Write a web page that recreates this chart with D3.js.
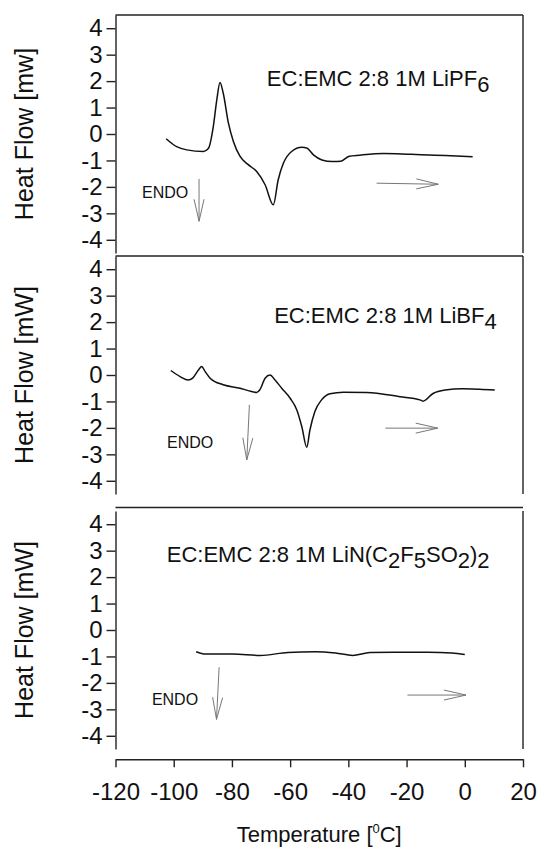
<!DOCTYPE html>
<html>
<head>
<meta charset="utf-8">
<script src="https://cdn.jsdelivr.net/npm/d3@7"></script>
<style>
  body { margin: 0; background: #fff; }
  text { font-family: "Liberation Sans", Arial, sans-serif; fill: #111; }
  .frame { stroke: #222; stroke-width: 1.4; fill: none; }
  .curve { fill: none; stroke: #111; stroke-width: 1.5; }
  .arrow { stroke: #777; stroke-width: 1; fill: none; }
  .tick line, .domain { stroke: #222; stroke-width: 1.4; }
</style>
</head>
<body>
<svg id="chart" width="537" height="851"></svg>
<script>
/* ==== Data ==== */
var tempTicks = [-120, -100, -80, -60, -40, -20, 0, 20];
var flowTicks = [-4, -3, -2, -1, 0, 1, 2, 3, 4];

// [temperature degC, heat flow mW]
var lipf6 = [
  [-102.6, -0.18], [-99, -0.48], [-95.5, -0.6], [-89.8, -0.66], [-88.1, -0.55],
  [-86.4, 0.28], [-85.2, 1.29], [-84.1, 1.95], [-83, 1.55], [-81.2, 0.41],
  [-79.5, -0.28], [-77.2, -0.85], [-74.4, -1.16], [-71.5, -1.42], [-68.6, -1.92],
  [-65.8, -2.68], [-64.1, -1.73], [-62.3, -1.1], [-59.5, -0.66], [-56, -0.5],
  [-54.3, -0.53], [-52, -0.79], [-49.1, -0.98], [-45.5, -1.04], [-42.6, -1.03],
  [-39.7, -0.84], [-36.1, -0.8], [-27.9, -0.74], [-18.5, -0.77], [-6.7, -0.81],
  [2.7, -0.86]
];
var libf4 = [
  [-101, 0.17], [-97.8, -0.06], [-95, -0.19], [-93.5, -0.12], [-91.5, 0.19],
  [-90.4, 0.32], [-89.2, 0.13], [-87.5, -0.12], [-83, -0.37], [-77.2, -0.5],
  [-74.4, -0.59], [-71.5, -0.66], [-70.4, -0.56], [-68.6, -0.12], [-66.9, 0],
  [-65.2, -0.19], [-62.9, -0.5], [-60, -0.88], [-57.7, -1.32], [-56, -1.95],
  [-54.3, -2.73], [-53.2, -2.08], [-51.5, -1.38], [-49.2, -0.94], [-46.3, -0.71],
  [-41.7, -0.65], [-33.7, -0.66], [-22.3, -0.82], [-15.4, -0.94], [-14.4, -0.99],
  [-10.9, -0.7], [-6.7, -0.57], [-0.9, -0.52], [5.1, -0.54], [10.3, -0.57]
];
var libeti = [
  [-92.3, -0.82], [-89.1, -0.91], [-79.7, -0.91], [-70.3, -0.96], [-60.8, -0.85],
  [-51.4, -0.82], [-44.4, -0.87], [-38.5, -0.96], [-32.6, -0.85], [-24.4, -0.84],
  [-12.6, -0.84], [-4.4, -0.87], [0, -0.93]
];
var seriesList = [lipf6, libf4, libeti];

var yTitles = ["Heat Flow [mw]", "Heat Flow [mW]", "Heat Flow [mW]"];
// text pieces, second value = subscript
var panelTitles = [
  [["EC:EMC 2:8 1M LiPF", 0], ["6", 1]],
  [["EC:EMC 2:8 1M LiBF", 0], ["4", 1]],
  [["EC:EMC 2:8 1M LiN(C", 0], ["2", 1], ["F", 0], ["5", 1], ["SO", 0], ["2", 1], [")", 0], ["2", 1]]
];
// anchor of each title, in data units [temp, flow]
var titleAt = [[-68, 1.8], [-65.5, 1.95], [-102.4, 2.58]];
var endoAt = [[-110.9, -2.41], [-102.3, -2.77], [-107.5, -2.84]];
// down arrows [t1, f1, t2, f2]
var endoArrows = [[-91.3, -1.7, -91.3, -3.3], [-74.0, -1.13, -74.9, -3.21], [-84.4, -1.41, -85.3, -3.38]];
var scanArrows = [[-30.3, -1.86, -9.1, -1.9], [-27.3, -2.01, -9.3, -2.01], [-19.7, -2.46, 0.4, -2.46]];

/* ==== Layout ==== */
var LEFT = 115.5, RIGHT = 523;
var PANEL_H = 238;
var panelTops = [15, 256, 511];
var X_AXIS_Y = 759.3;
var FONT = '"Liberation Sans", Arial, sans-serif';

var svg = d3.select("#chart");
var x = d3.scaleLinear().domain([-120, 20]).range([LEFT, RIGHT]);
var plainNum = d => String(d); // hyphen minus, like the original

function arrow(g, x1, y1, x2, y2) {
  var ang = Math.atan2(y2 - y1, x2 - x1);
  var L = 22, W = 5;
  var bx = x2 - L * Math.cos(ang), by = y2 - L * Math.sin(ang);
  var nx = -Math.sin(ang) * W, ny = Math.cos(ang) * W;
  g.append("path").attr("class", "arrow")
    .attr("d", "M" + x1 + "," + y1 + "L" + x2 + "," + y2 +
      "M" + (bx + nx) + "," + (by + ny) + "L" + x2 + "," + y2 + "L" + (bx - nx) + "," + (by - ny));
}

panelTops.forEach(function(top, i) {
  var y = d3.scaleLinear().domain([-4.5, 4.5]).range([top + PANEL_H, top]);
  var g = svg.append("g").attr("class", "panel");

  // frame: top and right; the axis makes the left side
  var frameTop = i == 2 ? top - 3.5 : top;
  g.append("line").attr("class", "frame").attr("x1", LEFT).attr("x2", RIGHT).attr("y1", frameTop).attr("y2", frameTop);
  g.append("line").attr("class", "frame").attr("x1", RIGHT).attr("x2", RIGHT).attr("y1", top).attr("y2", top + PANEL_H);

  var ax = g.append("g").attr("transform", "translate(" + LEFT + ",0)")
    .call(d3.axisLeft(y).tickValues(flowTicks).tickFormat(plainNum).tickSize(9).tickPadding(4).tickSizeOuter(0));
  ax.selectAll("text").attr("font-size", 24).style("font-family", FONT).attr("fill", "#111");

  g.append("text")
    .attr("transform", "translate(24," + y(0) + ") rotate(-90)")
    .attr("text-anchor", "middle").attr("dy", "0.35em")
    .attr("font-size", 25)
    .text(yTitles[i]);

  var line = d3.line().x(d => x(d[0])).y(d => y(d[1])).curve(d3.curveMonotoneX);
  g.append("path").attr("class", "curve").attr("d", line(seriesList[i]));

  var t = g.append("text").attr("x", x(titleAt[i][0])).attr("y", y(titleAt[i][1])).attr("font-size", 22);
  var lowered = false;
  panelTitles[i].forEach(function(p) {
    var ts = t.append("tspan").text(p[0]);
    if (p[1] && !lowered) { ts.attr("dy", 6); lowered = true; }
    else if (!p[1] && lowered) { ts.attr("dy", -6); lowered = false; }
  });

  g.append("text").attr("x", x(endoAt[i][0])).attr("y", y(endoAt[i][1]))
    .attr("font-size", 16).text("ENDO");

  var a = endoArrows[i];
  arrow(g, x(a[0]), y(a[1]), x(a[2]), y(a[3]));
  var s = scanArrows[i];
  arrow(g, x(s[0]), y(s[1]), x(s[2]), y(s[3]));
});

/* ==== X axis ==== */
var xa = svg.append("g").attr("transform", "translate(0," + X_AXIS_Y + ")")
  .call(d3.axisBottom(x).tickValues(tempTicks).tickFormat(plainNum).tickSize(8).tickPadding(16).tickSizeOuter(0));
xa.selectAll("text").attr("font-size", 24).style("font-family", FONT).attr("fill", "#111");

var xt = svg.append("text").attr("x", (LEFT + RIGHT) / 2).attr("y", 842)
  .attr("text-anchor", "middle").attr("font-size", 22);
xt.append("tspan").text("Temperature [");
xt.append("tspan").attr("dy", -9).attr("font-size", 13).text("0");
xt.append("tspan").attr("dy", 9).text("C]");
</script>
</body>
</html>
